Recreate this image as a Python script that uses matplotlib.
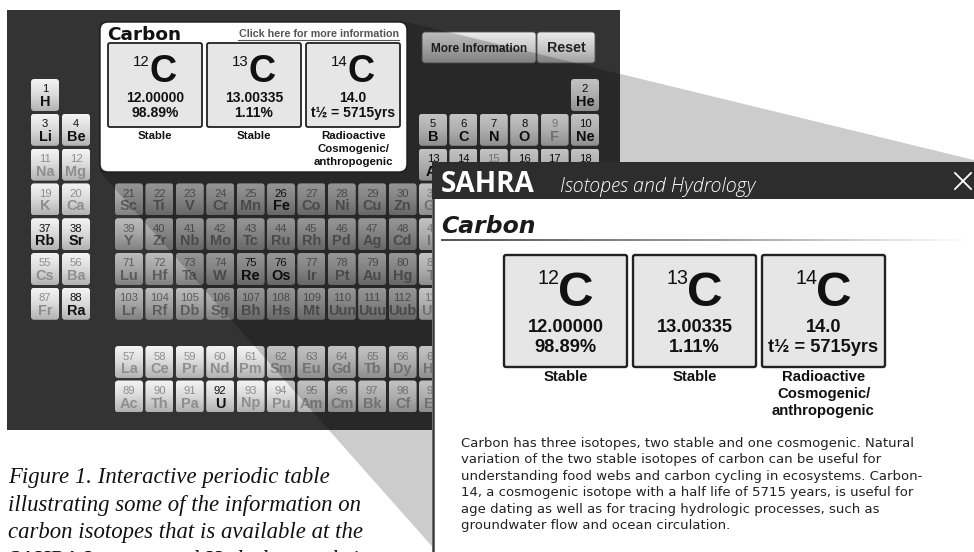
import numpy as np
import matplotlib.pyplot as plt
from matplotlib.patches import FancyBboxPatch, Rectangle, Polygon
from matplotlib.colors import LinearSegmentedColormap

# --- data -------------------------------------------------------------
symbols = ("H He Li Be B C N O F Ne Na Mg Al Si P S Cl Ar K Ca Sc Ti V Cr Mn Fe Co Ni Cu Zn "
           "Ga Ge As Se Br Kr Rb Sr Y Zr Nb Mo Tc Ru Rh Pd Ag Cd In Sn Sb Te I Xe Cs Ba "
           "La Ce Pr Nd Pm Sm Eu Gd Tb Dy Ho Er Tm Yb Lu Hf Ta W Re Os Ir Pt Au Hg Tl Pb Bi Po At Rn "
           "Fr Ra Ac Th Pa U Np Pu Am Cm Bk Cf Es Fm Md No Lr Rf Db Sg Bh Hs Mt Uun Uuu Uub "
           "Uut Uuq Uup Uuh Uus Uuo").split()
with_data = ['H', 'He', 'Li', 'Be', 'B', 'C', 'N', 'O', 'Ne', 'Al', 'Si', 'S', 'Cl', 'Ar',
             'Rb', 'Sr', 'Fe', 'Re', 'Os', 'Ra', 'U']

element_name = 'Carbon'
mass_numbers = ['12', '13', '14']
masses = ['12.00000', '13.00335', '14.0']
second_lines = ['98.89%', '1.11%', 't½ = 5715yrs']
kinds = [['Stable'], ['Stable'], ['Radioactive', 'Cosmogenic/', 'anthropogenic']]

buttons = ['More Information', 'Reset']
link_text = 'Click here for more information'
header_title = 'SAHRA'
header_sub = 'Isotopes and Hydrology'

paragraph = [
    "Carbon has three isotopes, two stable and one cosmogenic. Natural",
    "variation of the two stable isotopes of carbon can be useful for",
    "understanding food webs and carbon cycling in ecosystems. Carbon-",
    "14, a cosmogenic isotope with a half life of 5715 years, is useful for",
    "age dating as well as for tracing hydrologic processes, such as",
    "groundwater flow and ocean circulation.",
]
caption = [
    "Figure 1. Interactive periodic table",
    "illustrating some of the information on",
    "carbon isotopes that is available at the",
    "SAHRA Isotopes and Hydrology website",
]

SANS = 'Liberation Sans'
PT = 0.72  # points per pixel at dpi 100
POP_X, POP_Y = 432, 162  # popup top-left corner


def place(z):
    """period/row and group/column for atomic number z"""
    if 57 <= z <= 70:
        return 'f', 0, z - 57
    if 89 <= z <= 102:
        return 'f', 1, z - 89
    if z <= 2:
        return 'm', 1, 1 if z == 1 else 18
    if z <= 18:
        p = 2 if z <= 10 else 3
        k = z - (2 if p == 2 else 10)
        return 'm', p, k if k <= 2 else k + 10
    if z <= 36:
        return 'm', 4, z - 18
    if z <= 54:
        return 'm', 5, z - 36
    p, base = (6, 54) if z <= 86 else (7, 86)
    k = z - base
    return 'm', p, k if k <= 2 else k - 14


def col_x(g):
    if g == 1:
        return 31
    if g == 2:
        return 62
    return 115 + (g - 3) * 30.4


def grad_box(ax, x, y, w, h, colors, r, z, ec='none', lw=0):
    patch = FancyBboxPatch((x + r, y + r), w - 2 * r, h - 2 * r,
                           boxstyle=f"round,pad={r}", fc='none', ec=ec, lw=lw, zorder=z + 0.1)
    ax.add_patch(patch)
    cmap = LinearSegmentedColormap.from_list('g', colors)
    im = ax.imshow(np.linspace(0, 1, 64)[:, None], extent=(x, x + w, y + h, y), cmap=cmap,
                   vmin=0, vmax=1, aspect='auto', interpolation='bilinear', zorder=z)
    im.set_clip_path(patch)


def txt(ax, x, y, s, px, **kw):
    kw.setdefault('family', SANS)
    kw.setdefault('va', 'baseline')
    return ax.text(x, y, s, fontsize=px * PT, **kw)


fig = plt.figure(figsize=(9.74, 5.52), dpi=100)
ax = fig.add_axes([0, 0, 1, 1])

# dark panel
ax.add_patch(Rectangle((7, 10), 613, 420, fc='#333333', ec='none', zorder=1))

# tiles
light = ['#f4f4f4', '#dadada', '#b2b2b2']
mid = ['#bcbcbc', '#a4a4a4', '#828282']
TW, TH = 28, 32
for z, sym in enumerate(symbols, start=1):
    kind, row, g = place(z)
    if kind == 'f':
        x = 115 + g * 30.4
        y = 346 + row * 34.5
        tm = False
    else:
        x = col_x(g)
        y = 79 + (row - 1) * 34.8
        tm = row >= 4 and 3 <= g <= 12
    if x > POP_X + 8 and y > POP_Y:
        continue  # fully hidden behind the popup
    grad_box(ax, x, y, TW, TH, mid if tm else light, 3, 2)
    if sym in with_data:
        c = '#111111'
    else:
        c = '#5c5c5c' if tm else '#8e8e8e'
    txt(ax, x + TW / 2, y + 13.5, str(z), 11.2, ha='center', color=c, zorder=3)
    if x + 4 < POP_X or y + 20 < POP_Y:
        txt(ax, x + TW / 2, y + 27, sym, 14.5, ha='center', color=c, weight='bold', zorder=3)

# buttons
bx = [(422, 114, 11.8), (537, 58, 14.3)]
for label, (x, w, fs) in zip(buttons, bx):
    grad_box(ax, x, 32, w, 31, ['#ebebeb', '#cacaca', '#a2a2a2'], 3, 2, ec='#555555', lw=0.6)
    txt(ax, x + w / 2, 52, label, fs, ha='center', color='#222222', weight='bold', zorder=3)

# magnifier cone from the info box to the popup
cone = [(100, 22), (407, 22), (974, 160), (974, 552), (437, 552), (100, 172)]
ax.add_patch(Polygon(cone, closed=True, fc='black', alpha=0.2, lw=0, zorder=5))

# caption (last line runs off the bottom, as in the screenshot)
for i, line in enumerate(caption):
    ax.text(8, 483 + 27.6 * i, line, fontsize=22.8 * PT, family='Liberation Serif',
            style='italic', va='baseline', color='#111111', zorder=4)


def isotope_boxes(ax, x0, y0, w, h, gap, s, z):
    for i in range(3):
        x = x0 + i * (w + gap)
        cx = x + w / 2
        ax.add_patch(FancyBboxPatch((x + 2, y0 + 2), w - 4, h - 4, boxstyle="round,pad=2",
                                    fc='#e6e6e6', ec='#222222', lw=1.3 * s, zorder=z))
        em_c, em_s = 37.7 * s, 15 * s
        wc, ws = 0.72 * em_c, 1.08 * em_s
        start = cx - (wc + ws) / 2
        txt(ax, start, y0 + 22.5 * s, mass_numbers[i], em_s, ha='left', color='#111111', zorder=z + 1)
        txt(ax, start + ws, y0 + 39 * s, 'C', em_c, ha='left', color='#111111',
            weight='bold', zorder=z + 1)
        txt(ax, cx, y0 + 59 * s, masses[i], 13.9 * s, ha='center', color='#111111',
            weight='bold', zorder=z + 1)
        txt(ax, cx, y0 + 74 * s, second_lines[i], 13.9 * s, ha='center', color='#111111',
            weight='bold', zorder=z + 1)
        for j, lab in enumerate(kinds[i]):
            txt(ax, cx, y0 + (96 + 13 * j) * s, lab, 11.4 * s, ha='center', color='#111111',
                weight='bold', zorder=z + 1)


# info box on the table
ax.add_patch(FancyBboxPatch((108, 30), 291, 134, boxstyle="round,pad=8",
                            fc='white', ec='#1a1a1a', lw=1.0, zorder=6))
txt(ax, 107, 40, element_name, 18.5, family='DejaVu Sans', weight='bold', color='#111111', zorder=7)
txt(ax, 399, 37, link_text, 10.8, ha='right', weight='bold', color='#555555', zorder=7)
ax.plot([238, 399], [39.5, 39.5], color='#555555', lw=0.8, zorder=7)
isotope_boxes(ax, 108, 43, 94, 84, 5, 1.0, 7)

# popup window
ax.add_patch(Rectangle((POP_X, POP_Y), 560, 400, fc='white', ec='none', zorder=10))
ax.plot([POP_X + 1, POP_X + 1], [POP_Y, 552], color='#3a3a3a', lw=1.8, zorder=11)
ax.add_patch(Rectangle((POP_X, POP_Y), 560, 37, fc='#2d2d2d', ec='none', zorder=11))
ax.text(441, 192, header_title, fontsize=28 * PT, family='Open Sans', weight='bold',
        color='white', va='baseline', zorder=12)
ax.text(560, 192, header_sub, fontsize=19.6 * PT, family='Open Sans', weight='light',
        style='italic', color='white', va='baseline', zorder=12)
ax.plot([955, 971], [173, 189], color='white', lw=1.3, zorder=12)
ax.plot([955, 971], [189, 173], color='white', lw=1.3, zorder=12)

txt(ax, 441, 233, element_name, 23.5, family='DejaVu Sans', weight='bold', style='italic',
    color='#1a1a1a', zorder=12)
ul = LinearSegmentedColormap.from_list('ul', ['#555555', '#9a9a9a', '#ffffff'])
ax.imshow(np.linspace(0, 1, 256)[None, :], extent=(441, 970, 241.2, 239.2), cmap=ul,
          aspect='auto', zorder=12)

isotope_boxes(ax, 504, 255, 123, 112, 6, 1.31, 12)

for i, line in enumerate(paragraph):
    ax.text(461, 447 + 16.4 * i, line, fontsize=13.3 * PT, family='DejaVu Sans',
            color='#222222', va='baseline', zorder=12)

ax.set_xlim(0, 974)
ax.set_ylim(552, 0)
ax.axis('off')
fig.savefig('out.png', dpi=100)
